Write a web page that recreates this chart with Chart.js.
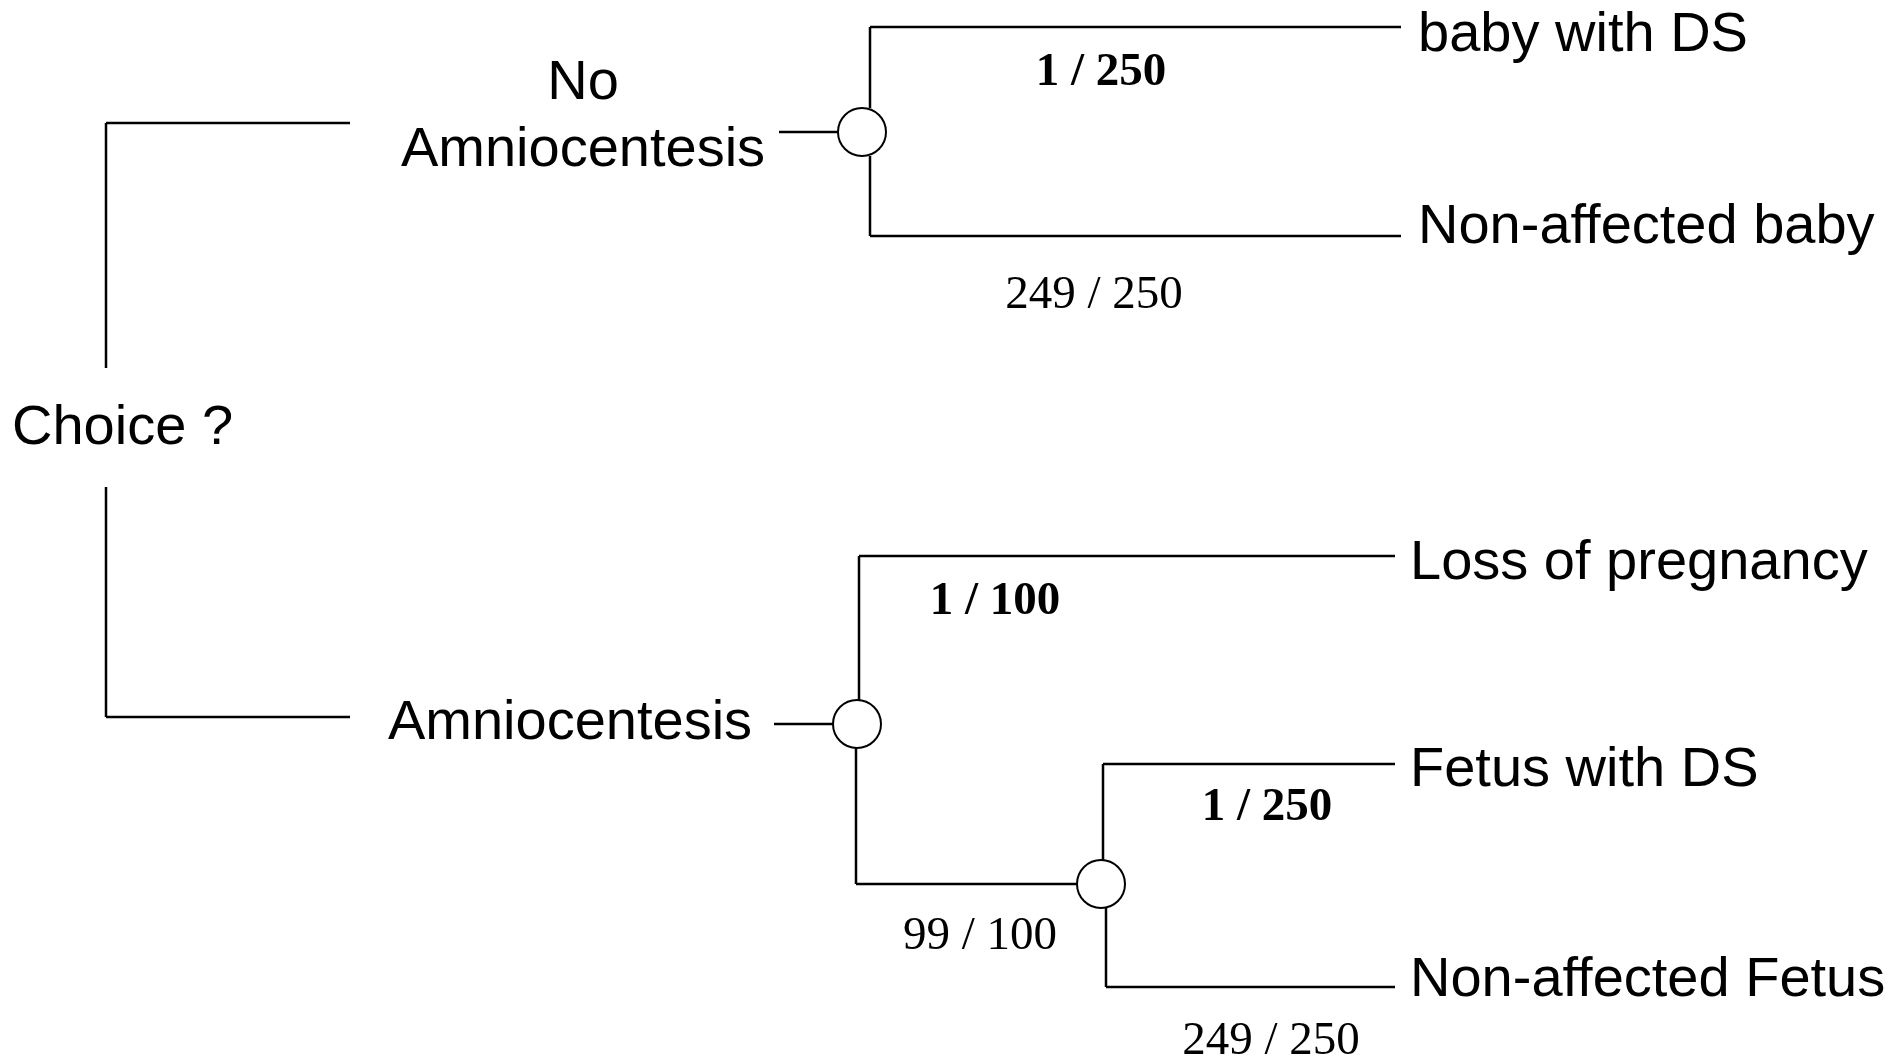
<!DOCTYPE html>
<html lang="en">
<head>
<meta charset="UTF-8">
<title>Amniocentesis decision tree</title>
<style>
  * { box-sizing: border-box; margin: 0; padding: 0; }
  html, body { width: 1901px; height: 1064px; background: #fff; overflow: hidden; }
  #tree { display: block; }
</style>
</head>
<body>
<canvas id="tree" width="1901" height="1064"></canvas>
<script src="https://cdn.jsdelivr.net/npm/chart.js@4.4.1/dist/chart.umd.min.js"></script>
<script>
// tree content
const rootLabel = 'Choice ?';
const choiceLabels = [['No', 'Amniocentesis'], ['Amniocentesis']];
const outcomeLabels = ['baby with DS', 'Non-affected baby', 'Loss of pregnancy', 'Fetus with DS', 'Non-affected Fetus'];
const probLabels = ['1 / 250', '249 / 250', '1 / 100', '99 / 100', '1 / 250', '249 / 250'];
const probBold = [true, false, true, false, true, false];

// layout, in axis units (x 0..1901, y 0..1064 top-down)
const nodeRadius = 24;
const root = { x: 106, armEnd: 350, armY: [123, 717], gap: [368, 487] };
const chanceNodes = [
  { cx: 862, cy: 132, stubFrom: 779, stemX: [870, 870], branchY: [27, 236], branchEnd: [1401, 1401] },
  { cx: 857, cy: 724, stubFrom: 774, stemX: [859, 856], branchY: [556, 884], branchEnd: [1395, 1077] },
  { cx: 1101, cy: 884, stubFrom: null, stemX: [1103, 1106], branchY: [764, 987], branchEnd: [1395, 1395] }
];
const rootLabelAt = [12, 444];
const choiceLabelAt = [[583, [99, 166]], [570, [739]]];
const outcomeLabelAt = [[1418, 51], [1418, 243], [1410, 579], [1410, 786], [1410, 996]];
const probLabelAt = [[1101, 85], [1094, 308], [995, 614], [980, 949], [1267, 820], [1271, 1054]];

// build the line segments
let segments = [];
segments.push([[root.x, root.armY[0]], [root.x, root.gap[0]]]);
segments.push([[root.x, root.gap[1]], [root.x, root.armY[1]]]);
root.armY.forEach(y => segments.push([[root.x, y], [root.armEnd, y]]));

chanceNodes.forEach(n => {
  if (n.stubFrom !== null) segments.push([[n.stubFrom, n.cy], [n.cx - nodeRadius, n.cy]]);
  segments.push([[n.stemX[0], n.branchY[0]], [n.stemX[0], n.cy - nodeRadius]]);
  segments.push([[n.stemX[1], n.cy + nodeRadius], [n.stemX[1], n.branchY[1]]]);
  segments.push([[n.stemX[0], n.branchY[0]], [n.branchEnd[0], n.branchY[0]]]);
  segments.push([[n.stemX[1], n.branchY[1]], [n.branchEnd[1], n.branchY[1]]]);
});

const datasets = segments.map(s => ({
  data: s.map(p => ({ x: p[0], y: p[1] })),
  showLine: true,
  borderColor: '#000',
  borderWidth: 2.5,
  pointRadius: 0,
  order: 1
}));

datasets.push({
  data: chanceNodes.map(n => ({ x: n.cx, y: n.cy })),
  showLine: false,
  pointRadius: nodeRadius,
  pointBackgroundColor: '#fff',
  pointBorderColor: '#000',
  pointBorderWidth: 2,
  order: 0
});

const treeText = {
  id: 'treeText',
  afterDatasetsDraw(chart) {
    const ctx = chart.ctx;
    const sx = chart.scales.x, sy = chart.scales.y;
    const put = (txt, x, y, align) => {
      ctx.textAlign = align;
      ctx.fillText(txt, sx.getPixelForValue(x), sy.getPixelForValue(y));
    };
    ctx.save();
    ctx.fillStyle = '#000';
    ctx.textBaseline = 'alphabetic';
    ctx.font = '56px "Liberation Sans", Arial, sans-serif';
    put(rootLabel, rootLabelAt[0], rootLabelAt[1], 'left');
    choiceLabels.forEach((lines, i) => {
      lines.forEach((l, j) => put(l, choiceLabelAt[i][0], choiceLabelAt[i][1][j], 'center'));
    });
    outcomeLabels.forEach((l, i) => put(l, outcomeLabelAt[i][0], outcomeLabelAt[i][1], 'left'));
    probLabels.forEach((l, i) => {
      ctx.font = (probBold[i] ? 'bold ' : '') + '47px "Liberation Serif", "Times New Roman", serif';
      put(l, probLabelAt[i][0], probLabelAt[i][1], 'center');
    });
    ctx.restore();
  }
};

new Chart(document.getElementById('tree'), {
  type: 'scatter',
  data: { datasets: datasets },
  options: {
    responsive: false,
    animation: false,
    events: [],
    layout: { padding: 0, autoPadding: false },
    scales: {
      x: { type: 'linear', min: 0, max: 1901, display: false },
      y: { type: 'linear', min: 0, max: 1064, reverse: true, display: false }
    },
    plugins: { legend: { display: false }, tooltip: { enabled: false } }
  },
  plugins: [treeText]
});
</script>
</body>
</html>
